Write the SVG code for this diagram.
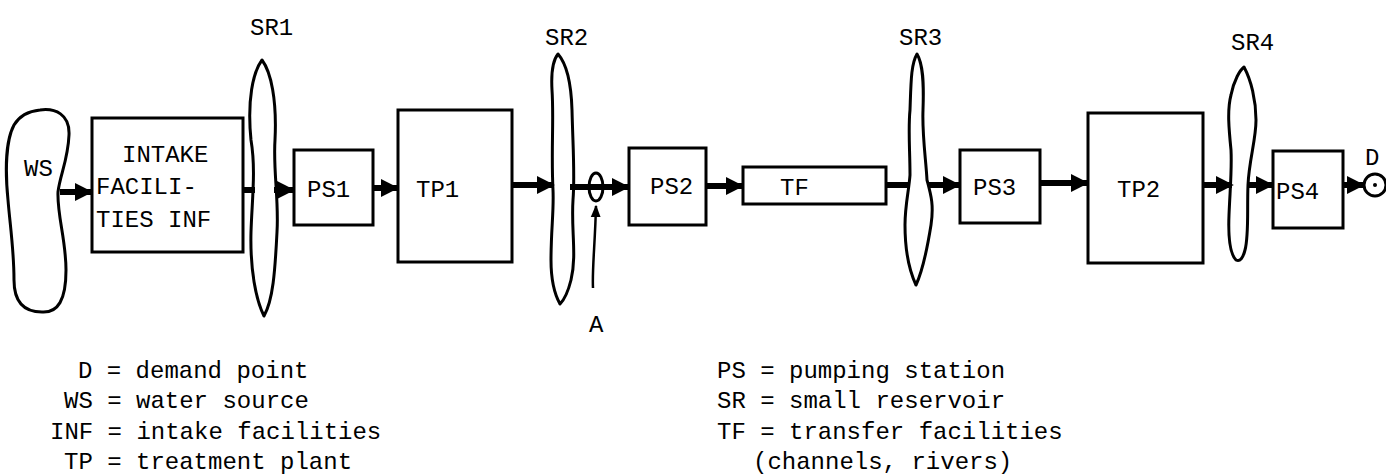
<svg xmlns="http://www.w3.org/2000/svg" width="1386" height="475" viewBox="0 0 1386 475">
<style>
.box{fill:#fff;stroke:#000;stroke-width:3}
.res{fill:#fff;stroke:#000;stroke-width:3;stroke-linejoin:round}
.lbl{font-family:"Liberation Mono","DejaVu Sans Mono",monospace;font-size:24px;fill:#000}
.leg{font-family:"Liberation Mono","DejaVu Sans Mono",monospace;font-size:24px;fill:#000}
.flow{stroke:#000;stroke-width:6;fill:none}
.thin{stroke:#000;stroke-width:2.5;fill:none}
</style>
<defs>
<marker id="ah" viewBox="0 0 10 10" refX="9" refY="5" markerWidth="3" markerHeight="3" orient="auto" markerUnits="strokeWidth">
<path d="M0,0 L10,5 L0,10 Z" fill="#000"/>
</marker>
<marker id="ah2" viewBox="0 0 10 10" refX="9" refY="5" markerWidth="5" markerHeight="5" orient="auto" markerUnits="strokeWidth">
<path d="M0,1 L10,5 L0,9 Z" fill="#000"/>
</marker>
</defs>
<rect width="1386" height="475" fill="#fff"/>

<g id="WS">
<path class="res" d="M40,110 C55,108 70,114 69,135 C68,160 60,175 58,192 C57,215 66,240 66,270 C66,300 58,313 42,312 C22,312 14,300 14,280 C14,250 10,225 8,200 C5,170 6,140 14,125 C20,115 30,111 40,110 Z"/>
<text class="lbl" x="24" y="176">WS</text>
</g>

<g id="INF">
<rect class="box" x="92" y="118" width="151" height="134"/>
<text class="lbl" x="122" y="162">INTAKE</text>
<text class="lbl" x="96" y="194">FACILI-</text>
<text class="lbl" x="96" y="227">TIES INF</text>
</g>

<g id="SR1">
<path class="res" d="M262,60 C271,72 277,100 275,140 C273,170 279,200 277,232 C275,272 273,300 264,316 C256,300 250,270 251,232 C252,200 256,170 251,140 C247,100 253,72 262,60 Z"/>
<text class="lbl" x="250" y="35">SR1</text>
</g>

<g id="PS1">
<rect class="box" x="294" y="150" width="79" height="75"/>
<text class="lbl" x="307" y="197">PS1</text>
</g>

<g id="TP1">
<rect class="box" x="398" y="110" width="114" height="152"/>
<text class="lbl" x="416" y="197">TP1</text>
</g>

<g id="SR2">
<path class="res" d="M558,54 C565,62 571,77 572,110 C573,150 575,175 573,200 C571,230 577,255 571,280 C568,292 564,300 560,304 C555,295 551,280 551,260 C551,230 554,210 553,190 C551,150 554,120 552,90 C551,72 553,60 558,54 Z"/>
<text class="lbl" x="545" y="45">SR2</text>
</g>

<g id="PS2">
<rect class="box" x="629" y="148" width="77" height="77"/>
<text class="lbl" x="650" y="194">PS2</text>
</g>

<g id="TF">
<rect class="box" x="743" y="167" width="143" height="37"/>
<text class="lbl" x="780" y="195">TF</text>
</g>

<g id="SR3">
<path class="res" d="M917,54 C923,64 924,82 923,110 C922,135 926,160 927,180 C931,195 934,205 931,225 C927,250 923,270 916,285 C909,270 905,250 905,225 C905,205 909,190 910,175 C910,150 908,130 910,110 C911,82 911,64 917,54 Z"/>
<text class="lbl" x="899" y="45">SR3</text>
</g>

<g id="PS3">
<rect class="box" x="960" y="150" width="80" height="73"/>
<text class="lbl" x="973" y="195">PS3</text>
</g>

<g id="TP2">
<rect class="box" x="1088" y="113" width="115" height="150"/>
<text class="lbl" x="1117" y="197">TP2</text>
</g>

<g id="SR4">
<path class="res" d="M1244,67 C1251,80 1256,100 1256,120 C1256,140 1249,160 1248,185 C1247,210 1249,235 1245,250 C1243,258 1240,262 1236,260 C1231,255 1228,240 1229,215 C1230,190 1232,170 1231,150 C1229,130 1227,110 1231,95 C1234,80 1240,70 1244,67 Z"/>
<text class="lbl" x="1231" y="50">SR4</text>
</g>

<g id="PS4">
<rect class="box" x="1273" y="151" width="70" height="77"/>
<text class="lbl" x="1276" y="199">PS4</text>
</g>

<g id="D">
<circle cx="1375" cy="185" r="11" fill="#fff" stroke="#000" stroke-width="3"/>
<circle cx="1375" cy="185" r="2" fill="#000"/>
<text class="lbl" x="1365" y="165">D</text>
</g>

<g id="A">
<ellipse cx="596" cy="187" rx="7" ry="14" fill="none" stroke="#000" stroke-width="3"/>
<text class="lbl" x="589" y="332">A</text>
</g>

<g id="connectors">
<line class="flow" x1="60" y1="192" x2="91" y2="192" marker-end="url(#ah)"/>
<line class="flow" x1="243" y1="190" x2="255" y2="190"/>
<line class="flow" x1="274" y1="190" x2="293" y2="190" marker-end="url(#ah)"/>
<line class="flow" x1="373" y1="188" x2="397" y2="188" marker-end="url(#ah)"/>
<line class="flow" x1="512" y1="185" x2="553" y2="185" marker-end="url(#ah)"/>
<line class="flow" x1="570" y1="187" x2="628" y2="187" marker-end="url(#ah)"/>
<line class="flow" x1="706" y1="186" x2="742" y2="186" marker-end="url(#ah)"/>
<line class="flow" x1="886" y1="185" x2="910" y2="185"/>
<line class="flow" x1="928" y1="185" x2="959" y2="185" marker-end="url(#ah)"/>
<line class="flow" x1="1040" y1="183" x2="1087" y2="183" marker-end="url(#ah)"/>
<line class="flow" x1="1203" y1="185" x2="1232" y2="185" marker-end="url(#ah)"/>
<line class="flow" x1="1247" y1="185" x2="1272" y2="185" marker-end="url(#ah)"/>
<line class="flow" x1="1343" y1="185" x2="1363" y2="185" marker-end="url(#ah)"/>
<path class="thin" d="M593,288 C592,270 595,245 596,206" marker-end="url(#ah2)"/>
</g>

<g id="legend">
<text class="leg" x="78" y="378">D = demand point</text>
<text class="leg" x="64" y="408">WS = water source</text>
<text class="leg" x="50" y="439">INF = intake facilities</text>
<text class="leg" x="64" y="469">TP = treatment plant</text>
<text class="leg" x="717" y="378">PS = pumping station</text>
<text class="leg" x="717" y="408">SR = small reservoir</text>
<text class="leg" x="717" y="439">TF = transfer facilities</text>
<text class="leg" x="753" y="469">(channels, rivers)</text>
</g>
</svg>
